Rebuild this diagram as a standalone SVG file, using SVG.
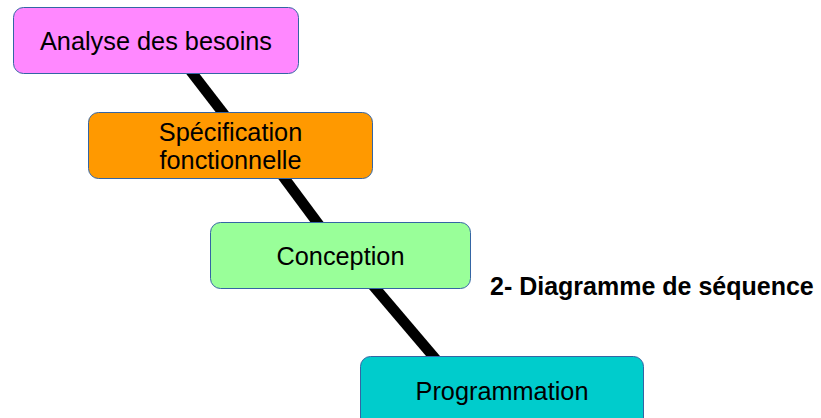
<svg xmlns="http://www.w3.org/2000/svg" width="821" height="418" viewBox="0 0 821 418">
<style>
.box{stroke:#3465a4;stroke-width:1}
.lbl{font-family:"Liberation Sans",Arial,sans-serif;font-size:25.3px;fill:#000;text-anchor:middle}
.title{font-family:"Liberation Sans",Arial,sans-serif;font-size:25px;font-weight:bold;fill:#000}
.conn{stroke:#000;stroke-width:10.5;fill:none}
</style>
<rect width="821" height="418" fill="#fff"/>
<g id="connectors">
<line class="conn" x1="186.8" y1="66" x2="229.2" y2="121"/>
<line class="conn" x1="279" y1="171" x2="322.8" y2="230"/>
<line class="conn" x1="369.2" y1="281" x2="439.8" y2="364"/>
</g>
<g id="analyse">
<rect class="box" x="13.5" y="7.5" width="285" height="66" rx="10" fill="#ff88ff"/>
<text class="lbl" x="156" y="50">Analyse des besoins</text>
</g>
<g id="specification">
<rect class="box" x="88.5" y="112.5" width="284" height="66" rx="10" fill="#ff9900"/>
<text class="lbl" x="230.5" y="140.5">Spécification</text>
<text class="lbl" x="230.5" y="168.5">fonctionnelle</text>
</g>
<g id="conception">
<rect class="box" x="210.5" y="222.5" width="260" height="66" rx="10" fill="#99ff99"/>
<text class="lbl" x="340.5" y="265">Conception</text>
</g>
<g id="programmation">
<rect class="box" x="360.5" y="356.5" width="283" height="72" rx="10" fill="#00cccc"/>
<text class="lbl" x="502" y="399.5">Programmation</text>
</g>
<text class="title" x="490" y="295">2- Diagramme de séquence</text>
</svg>
